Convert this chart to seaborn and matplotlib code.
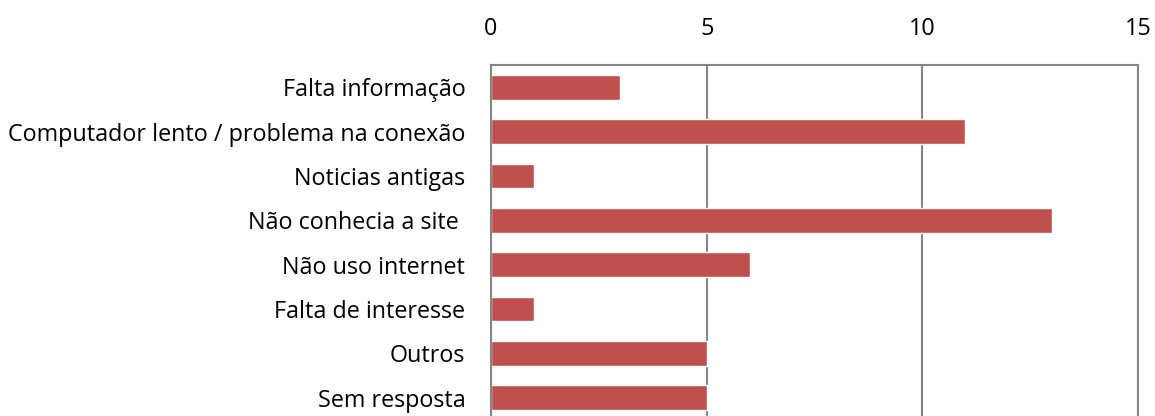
import matplotlib
matplotlib.use("Agg")
import matplotlib.pyplot as plt
import seaborn as sns
import pandas as pd

categories = ["Falta informação", "Computador lento / problema na conexão",
              "Noticias antigas", "Não conhecia a site ", "Não uso internet",
              "Falta de interesse", "Outros", "Sem resposta"]
values = [3, 11, 1, 13, 6, 1, 5, 5]
x_ticks = [0, 5, 10, 15]

sns.set_theme(style="white")
plt.rcParams['font.family'] = ['Open Sans', 'DejaVu Sans']

df = pd.DataFrame({"cat": categories, "val": values})

fig = plt.figure(figsize=(11.55, 4.16), dpi=100)
ax = fig.add_axes([491/1155, 1 - 420/416, (1138 - 491)/1155, (420 - 65)/416])
sns.barplot(data=df, y="cat", x="val", orient="h", color="#C0504D",
            saturation=1, width=0.56, ax=ax)

ax.set_xlim(0, 15)
ax.set_xticks(x_ticks)
ax.xaxis.tick_top()
ax.tick_params(axis="x", length=0, pad=17, labelsize=16.8, colors="black")
ax.tick_params(axis="y", length=0, pad=18.5, labelsize=16.8, colors="black")
ax.set_xlabel("")
ax.set_ylabel("")
ax.grid(axis="x", color="#868686", linewidth=1.5)
ax.set_axisbelow(True)
for s in ax.spines.values():
    s.set_color("#868686")
    s.set_linewidth(1.5)

fig.savefig("out.png", dpi=100)
